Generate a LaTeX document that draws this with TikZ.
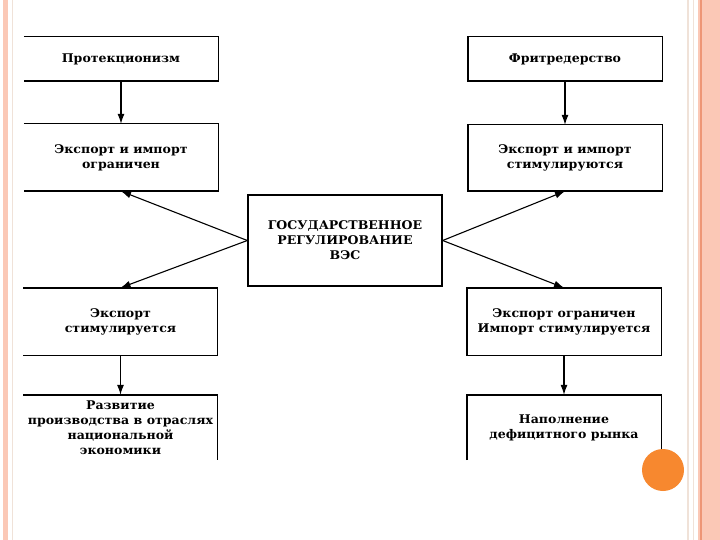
\documentclass[tikz,border=0pt]{standalone}
\usepackage{fontspec}
\newfontfamily\scanfont{DejaVu Serif}[FakeStretch=1.05]
\usetikzlibrary{arrows.meta}
\definecolor{slidepink}{RGB}{251,200,182}
\definecolor{slideline}{RGB}{238,150,118}
\definecolor{faintline}{RGB}{240,226,216}
\definecolor{dotorange}{RGB}{247,136,47}

\begin{document}
\begin{tikzpicture}[x=1bp,y=-1bp,
  box/.style={minimum width=194bp, inner sep=0pt, align=center,
    font=\scanfont\bfseries\fontsize{12}{15}\selectfont},
  frame/.style={line width=1.4bp},
  arr/.style={-{Latex[length=10bp,width=7bp]}, line width=1.1bp}]
\useasboundingbox (0,0) rectangle (720,540);
\fill[white] (0,0) rectangle (720,540);

% slide borders
\fill[slidepink] (3,0) rectangle (8,540);
\draw[faintline, line width=1.5bp] (12.5,0) -- (12.5,540);
\draw[faintline, line width=1.5bp] (688,0) -- (688,540);
\draw[faintline] (693,0) -- (693,540);
\fill[slidepink] (698,0) rectangle (720,540);
\draw[slideline, line width=2bp] (701,0) -- (701,540);

% left column
\node[box, minimum height=44bp] (prot) at (121,59) {Протекционизм};
\node[box, minimum height=67bp] (limboth) at (121,157.5) {Экспорт и импорт\\ограничен};
\node[box, minimum height=67bp] (expstim) at (120.5,321.5) {Экспорт\\стимулируется};
\node[box, minimum height=65bp] (develop) at (120.5,427.5) {Развитие\\производства в отраслях\\национальной\\экономики};

% right column
\node[box, minimum height=44bp] (free) at (565,59) {Фритредерство};
\node[box, minimum height=66bp] (stimboth) at (565,158) {Экспорт и импорт\\стимулируются};
\node[box, minimum height=67bp] (impstim) at (564,321.5) {Экспорт ограничен\\Импорт стимулируется};
\node[box, minimum height=65bp] (fill) at (564,427.5) {Наполнение\\дефицитного рынка};

% centre
\node[box, draw, frame, minimum height=91bp] (gos) at (345,240.5) {ГОСУДАРСТВЕННОЕ\\РЕГУЛИРОВАНИЕ\\ВЭС};

% frames (left ones cut off at the scan edge)
\draw[frame] (prot.north west) -- (prot.north east) -- (prot.south east) -- (prot.south west);
\draw[frame] (limboth.north west) -- (limboth.north east) -- (limboth.south east) -- (limboth.south west);
\draw[frame] (expstim.north west) -- (expstim.north east) -- (expstim.south east) -- (expstim.south west);
\draw[frame] (develop.north west) -- (develop.north east) -- (develop.south east);
\draw[frame] (free.south west) rectangle (free.north east);
\draw[frame] (stimboth.south west) rectangle (stimboth.north east);
\draw[frame] (impstim.south west) rectangle (impstim.north east);
\draw[frame] (fill.south west) -- (fill.north west) -- (fill.north east) -- (fill.south east);

% arrows
\draw[arr] (prot.south) -- (limboth.north);
\draw[arr] (expstim.south) -- (develop.north);
\draw[arr] (free.south) -- (stimboth.north);
\draw[arr] (impstim.south) -- (fill.north);
\draw[arr] (gos.west) -- (limboth.south);
\draw[arr] (gos.west) -- (expstim.north);
\draw[arr] (gos.east) -- (stimboth.south);
\draw[arr] (gos.east) -- (impstim.north);

% orange dot
\fill[dotorange] (663,470) circle (21);
\end{tikzpicture}
\end{document}
